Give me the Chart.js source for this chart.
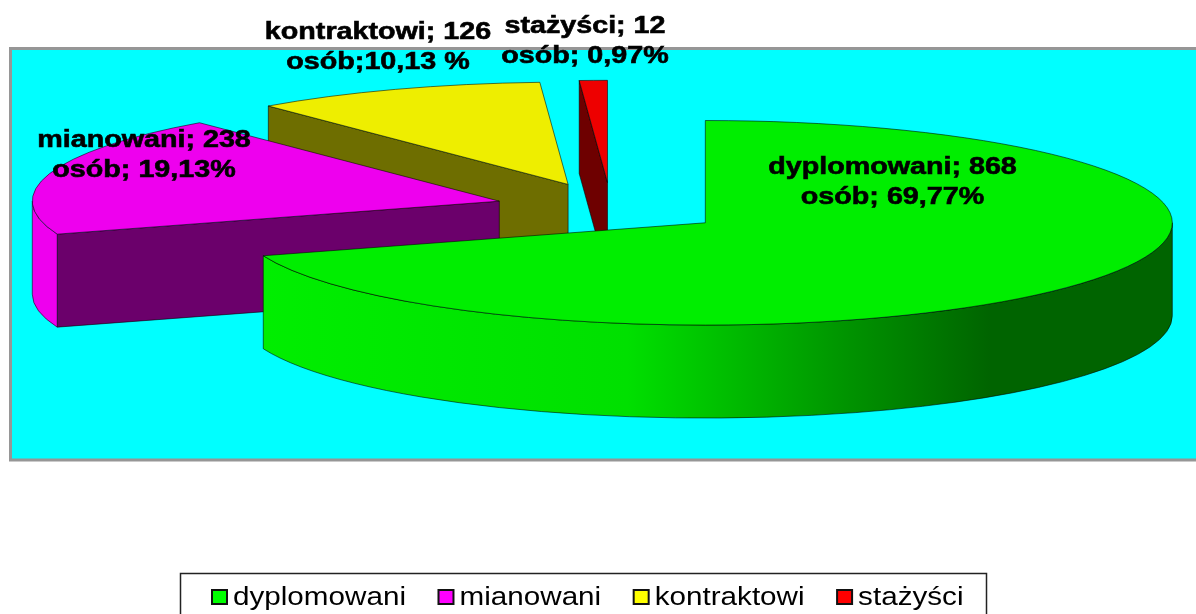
<!DOCTYPE html>
<html><head><meta charset="utf-8">
<style>html,body{margin:0;padding:0;background:#fff}canvas{display:block}</style>
<script src="https://cdn.jsdelivr.net/npm/chart.js@4"></script>
</head><body><canvas id="c" width="1196" height="614"></canvas>
<script>
const categories = ['dyplomowani', 'mianowani', 'kontraktowi', 'stażyści'];
const counts = [868, 238, 126, 12];
const labelLine1 = ['dyplomowani; 868', 'mianowani; 238', 'kontraktowi; 126', 'stażyści; 12'];
const labelLine2 = ['osób; 69,77%', 'osób; 19,13%', 'osób;10,13 %', 'osób; 0,97%'];
const topColors = ['#00EE00', '#EE00EE', '#EEEE00', '#EE0000'];
const wallColors = ['#006400', '#6B006B', '#6E6E00', '#6E0000'];
const legendColors = ['#00FF00', '#FF00FF', '#FFFF00', '#FF0000'];

const PIE_X = 611, PIE_Y = 208, FLAT = 0.219, DEPTH = 93, EXPLODE = 116;
const LABEL_POS = [[892.5,174,204],[144,147,177],[378,39,69],[585,33,63]];
const LINE = 'rgba(0,0,0,0.55)';

function geom(arc){
  const p = arc.getProps(['x','y','startAngle','endAngle','outerRadius']);
  const mid = (p.startAngle+p.endAngle)/2;
  return {a:p.startAngle,b:p.endAngle,R:p.outerRadius,
    X:PIE_X+Math.cos(mid)*EXPLODE, Y:PIE_Y+Math.sin(mid)*EXPLODE*FLAT};
}
function drawWalls(ctx,g,i){
  const rx=g.R, ry=g.R*FLAT;
  const edge=(ang)=>{
    const ex=g.X+rx*Math.cos(ang), ey=g.Y+ry*Math.sin(ang);
    ctx.beginPath();ctx.moveTo(g.X,g.Y);ctx.lineTo(ex,ey);ctx.lineTo(ex,ey+DEPTH);ctx.lineTo(g.X,g.Y+DEPTH);ctx.closePath();
    ctx.fillStyle=wallColors[i];ctx.fill();ctx.stroke();
  };
  ctx.lineWidth=1;ctx.strokeStyle=LINE;
  if(Math.cos(g.a)<-1e-6) edge(g.a);
  if(Math.cos(g.b)>1e-6) edge(g.b);
  const s=Math.max(g.a,0), e=Math.min(g.b,Math.PI);
  if(e>s){
    ctx.beginPath();
    ctx.ellipse(g.X,g.Y,rx,ry,0,s,e,false);
    ctx.ellipse(g.X,g.Y+DEPTH,rx,ry,0,e,s,true);
    ctx.closePath();
    if(i===0){
      const gr=ctx.createLinearGradient(264,0,1172,0);
      gr.addColorStop(0,'#00EE00');gr.addColorStop(0.40,'#00E000');
      gr.addColorStop(0.64,'#009400');gr.addColorStop(0.80,'#006400');gr.addColorStop(1,'#006400');
      ctx.fillStyle=gr;
    } else ctx.fillStyle=topColors[i];
    ctx.fill();ctx.stroke();
  }
}
function outlineTop(ctx,g){
  ctx.lineWidth=1;ctx.strokeStyle=LINE;
  ctx.beginPath();ctx.moveTo(g.X,g.Y);
  ctx.ellipse(g.X,g.Y,g.R,g.R*FLAT,0,g.a,g.b,false);
  ctx.closePath();ctx.stroke();
}
function stretched(ctx,t,x,y,sx,heavy){
  ctx.save();ctx.translate(x,y);ctx.scale(sx,1);ctx.fillText(t,0,0);
  if(heavy){ctx.lineWidth=0.6;ctx.strokeStyle='#000';ctx.strokeText(t,0,0);}
  ctx.restore();
}
const pie3d = {
  id:'pie3d',
  beforeDraw(chart){
    const ctx=chart.ctx;
    ctx.save();
    ctx.fillStyle='#fff';ctx.fillRect(0,0,1196,614);
    ctx.fillStyle='#00FFFF';ctx.fillRect(10,48,1190,412);
    ctx.strokeStyle='#969696';ctx.lineWidth=3;
    ctx.beginPath();ctx.moveTo(1200,48.5);ctx.lineTo(10.5,48.5);ctx.lineTo(10.5,460);ctx.lineTo(1200,460);ctx.stroke();
    ctx.restore();
    const lg=chart.legend;
    if(lg && !lg._custom){
      lg._custom=true;
      lg.draw=function(){
        const c=chart.ctx;
        c.save();
        c.strokeStyle='#222';c.lineWidth=1.5;c.strokeRect(180.5,573.5,806,60);
        c.font='26px "Liberation Sans"';c.textAlign='left';c.textBaseline='alphabetic';
        const sx=1.14;let x=212;
        lg.legendItems.forEach((it,i)=>{
          c.fillStyle=legendColors[i];c.strokeStyle='#111';c.lineWidth=2;
          c.fillRect(x,590,15,14);c.strokeRect(x,590,15,14);
          c.fillStyle='#000';
          stretched(c,it.text,x+21,605,sx,false);
          x+=21+c.measureText(it.text).width*sx+32.5;
        });
        c.restore();
      };
    }
  },
  beforeDatasetDraw(chart,args){
    const ctx=chart.ctx, arcs=args.meta.data;
    for(let i=arcs.length-1;i>=0;i--){
      const arc=arcs[i], g=geom(arc);
      drawWalls(ctx,g,i);
      ctx.save();
      ctx.translate(g.X,g.Y);ctx.scale(1,FLAT);ctx.translate(-arc.x,-arc.y);
      arc.draw(ctx);
      ctx.restore();
      outlineTop(ctx,g);
    }
    return false;
  },
  afterDatasetsDraw(chart){
    const ctx=chart.ctx;
    ctx.save();
    ctx.font='bold 24px "Liberation Sans"';ctx.fillStyle='#000';ctx.textAlign='center';ctx.textBaseline='alphabetic';
    labelLine1.forEach((t,i)=>{
      const [x,y1,y2]=LABEL_POS[i];
      stretched(ctx,t,x,y1,1.195,true);
      stretched(ctx,labelLine2[i],x,y2,1.195,true);
    });
    ctx.restore();
  }
};
new Chart(document.getElementById('c'),{
  type:'pie',
  plugins:[pie3d],
  data:{labels:categories,datasets:[{data:counts,backgroundColor:topColors,borderWidth:0,clip:false}]},
  options:{
    responsive:false,animation:false,events:[],
    radius:467,rotation:0,
    plugins:{tooltip:{enabled:false},
      legend:{display:true,position:'bottom',labels:{font:{family:'Liberation Sans',size:26}}}}
  }
});
</script></body></html>
